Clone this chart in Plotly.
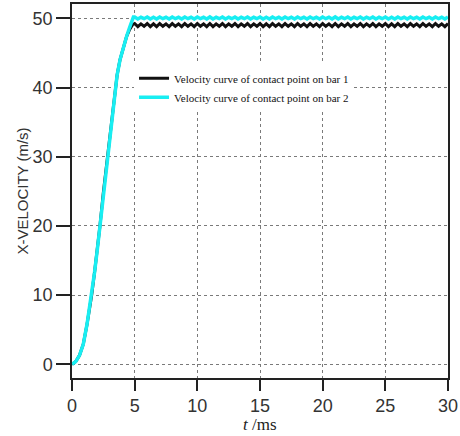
import numpy as np
import plotly.graph_objects as go

# Rising part (shared shape), time in ms, velocity in m/s
t_rise = [0, 0.3, 0.6, 0.9, 1.2, 1.57, 1.8, 2.02, 2.23, 2.5, 2.82, 3.16, 3.38, 3.6, 3.83, 4.1, 4.36]
v_rise = [0, 0.4, 1.3, 2.9, 5.8, 10.0, 13.3, 16.6, 20.0, 24.8, 30.0, 35.6, 39.0, 41.8, 44.0, 45.9, 47.4]

# End of rise for each curve
t_top1 = [4.6, 4.85]
v_top1 = [48.4, 49.1]
t_top2 = [4.6, 4.76, 4.9]
v_top2 = [48.7, 49.6, 50.2]

# Plateau samples from 5.0 ms to 30 ms every 0.25 ms
plateau_start = 5.0
plateau_step = 0.25
v_plateau1 = [
    49.25, 48.80, 49.20, 48.85, 49.25, 48.80, 49.20, 48.80, 49.25, 48.85,
    49.20, 48.80, 49.25, 48.85, 49.20, 48.80, 49.25, 48.85, 49.20, 48.80,
    49.25, 48.85, 49.20, 48.80, 49.25, 48.80, 49.20, 48.85, 49.25, 48.80,
    49.20, 48.85, 49.25, 48.80, 49.20, 48.85, 49.25, 48.80, 49.20, 48.85,
    49.25, 48.80, 49.20, 48.80, 49.25, 48.85, 49.20, 48.80, 49.25, 48.85,
    49.20, 48.80, 49.25, 48.85, 49.20, 48.80, 49.25, 48.85, 49.20, 48.80,
    49.25, 48.85, 49.20, 48.80, 49.25, 48.80, 49.20, 48.85, 49.25, 48.80,
    49.20, 48.85, 49.25, 48.80, 49.20, 48.85, 49.25, 48.80, 49.20, 48.85,
    49.25, 48.80, 49.20, 48.80, 49.25, 48.85, 49.20, 48.80, 49.25, 48.85,
    49.20, 48.80, 49.25, 48.85, 49.20, 48.80, 49.25, 48.85, 49.20, 48.80,
    49.25,
]
v_plateau2 = [
    50.20, 49.90, 50.15, 49.95, 50.20, 49.90, 50.15, 49.90, 50.20, 49.95,
    50.15, 49.90, 50.20, 49.95, 50.15, 49.90, 50.20, 49.95, 50.15, 49.90,
    50.20, 49.95, 50.15, 49.90, 50.20, 49.90, 50.15, 49.95, 50.20, 49.90,
    50.15, 49.95, 50.20, 49.90, 50.15, 49.95, 50.20, 49.90, 50.15, 49.95,
    50.20, 49.90, 50.15, 49.90, 50.20, 49.95, 50.15, 49.90, 50.20, 49.95,
    50.15, 49.90, 50.20, 49.95, 50.15, 49.90, 50.20, 49.95, 50.15, 49.90,
    50.20, 49.95, 50.15, 49.90, 50.20, 49.90, 50.15, 49.95, 50.20, 49.90,
    50.15, 49.95, 50.20, 49.90, 50.15, 49.95, 50.20, 49.90, 50.15, 49.95,
    50.20, 49.90, 50.15, 49.90, 50.20, 49.95, 50.15, 49.90, 50.20, 49.95,
    50.15, 49.90, 50.20, 49.95, 50.15, 49.90, 50.20, 49.95, 50.15, 49.90,
    50.20,
]

x_ticks = [0, 5, 10, 15, 20, 25, 30]
y_ticks = [0, 10, 20, 30, 40, 50]
name1 = "Velocity curve of contact point on bar 1"
name2 = "Velocity curve of contact point on bar 2"
x_title = "<i>t</i> /ms"
y_title = "X-VELOCITY (m/s)"

t_plateau = list(plateau_start + plateau_step * np.arange(len(v_plateau1)))

t1 = t_rise + t_top1 + t_plateau
v1 = v_rise + v_top1 + v_plateau1
t2 = t_rise + t_top2 + t_plateau
v2 = v_rise + v_top2 + v_plateau2

fig = go.Figure()
fig.add_trace(go.Scatter(x=t1, y=v1, mode="lines", name=name1,
                         line=dict(color="#111111", width=3)))
fig.add_trace(go.Scatter(x=t2, y=v2, mode="lines", name=name2,
                         line=dict(color="#18EEF2", width=3.5)))

axis_common = dict(
    showline=True, linecolor="#222222", linewidth=1.5, mirror=True,
    showgrid=True, gridcolor="#7a7a7a", griddash="dot", gridwidth=1,
    zeroline=False, ticks="outside", tickcolor="#222222", tickwidth=1.5,
    automargin=False,
    tickfont=dict(family="Liberation Sans, Arial", size=18, color="#333333"),
)

fig.update_layout(
    width=460, height=436,
    margin=dict(l=72, r=12, t=4, b=58),
    plot_bgcolor="white", paper_bgcolor="white",
    legend=dict(x=0.165, y=0.84, xanchor="left", yanchor="top",
                bgcolor="white", borderwidth=0, tracegroupgap=0,
                font=dict(family="Liberation Serif, Times New Roman", size=11, color="#111111")),
    xaxis=dict(range=[0, 30], tickvals=x_ticks, ticklen=11, **axis_common),
    yaxis=dict(range=[-1.98, 52.07], tickvals=y_ticks, ticklen=14,
               title=dict(text=y_title, standoff=0,
                          font=dict(family="Liberation Sans, Arial", size=15, color="#333333")),
               **axis_common),
    annotations=[dict(text=x_title, xref="paper", yref="paper", x=0.5, y=0,
                      xanchor="center", yanchor="middle", yshift=-46, showarrow=False,
                      font=dict(family="Liberation Serif, Times New Roman", size=17, color="#222222"))],
)

fig.write_html("out.html", config={"displayModeBar": False},
               post_script="document.body.style.margin='0px';")
